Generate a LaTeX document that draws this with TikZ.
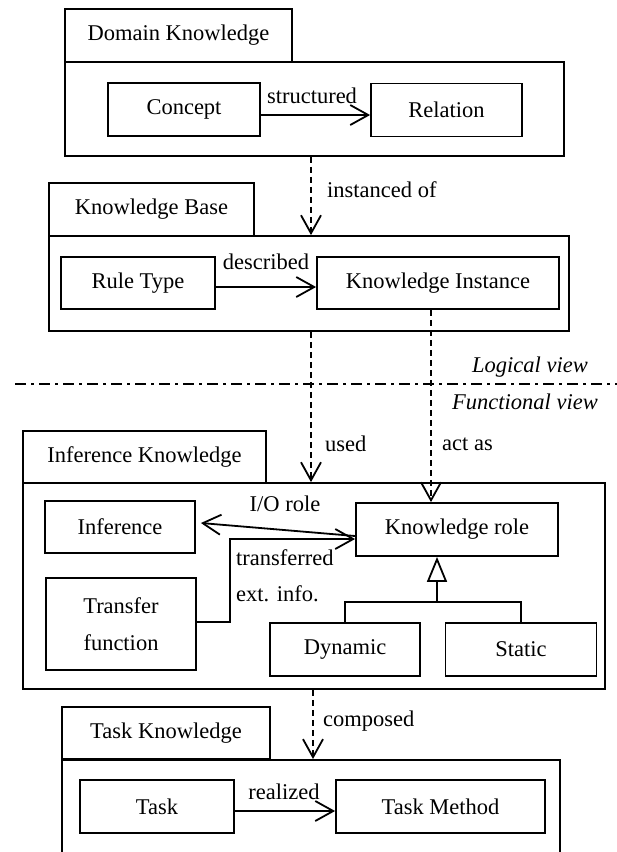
\documentclass[tikz,border=0pt]{standalone}
\usepackage{fontspec}
\setmainfont{Liberation Serif}
\usetikzlibrary{arrows.meta}
\begin{document}
\begin{tikzpicture}[x=1pt,y=-1pt,
  every node/.style={font=\fontsize{22.5pt}{27pt}\selectfont},
  box/.style={draw, line width=1.8pt, inner sep=0pt, align=center},
  lbl/.style={inner sep=0pt},
  conn/.style={line width=1.8pt},
  arr/.style={conn, -{Straight Barb[length=18pt,width=20pt]}},
  darr/.style={arr, dash pattern=on 6pt off 4pt},
  inherit/.style={conn, -{Triangle[open,length=25pt,width=20pt]}},
  viewline/.style={line width=1.8pt, dash pattern=on 11pt off 5pt on 3pt off 5pt}
]
\useasboundingbox (0,0) rectangle (617,852);
\clip (0,0) rectangle (617,852);
\fill[white] (0,0) rectangle (617,852);

% Domain Knowledge
\node[box, minimum width=227pt, minimum height=53pt] (dtab) at (178.5,35.5) {Domain Knowledge};
\node[box, minimum width=499pt, minimum height=94pt] (dbody) at (314.5,109) {};
\node[box, minimum width=152pt, minimum height=53pt] (concept) at (184,109.5) {Concept};
\node[box, minimum width=151pt, minimum height=53pt] (relation) at (446.5,110) {Relation};
\draw[arr] ([yshift=-5.5pt]concept.east) -- ([yshift=-5pt]relation.west);
\node[lbl] (lstruct) at (312,96) {structured};

% instanced of
\coordinate (x1) at (311,0);
\node[box, minimum width=205pt, minimum height=53pt] (kbtab) at (151.5,209.5) {Knowledge Base};
\node[box, minimum width=520pt, minimum height=95pt] (kbbody) at (309,283.5) {};
\draw[darr] (dbody.south -| x1) -- (kbbody.north -| x1);
\node[lbl, anchor=west] (linst) at (327,190) {instanced of};

\node[box, minimum width=154pt, minimum height=52pt] (rule) at (138,283) {Rule Type};
\node[box, minimum width=242pt, minimum height=52pt] (kinst) at (438,283) {Knowledge Instance};
\draw[arr] ([yshift=-4pt]rule.east) -- ([yshift=-4pt]kinst.west);
\node[lbl] (ldesc) at (266,262) {described};

% view separator
\coordinate (vl) at (15,384);
\coordinate (vr) at (617,384);
\draw[viewline] (vl) -- (vr);
\node[lbl, anchor=east, font=\fontsize{22.5pt}{27pt}\selectfont\itshape] (llog) at (588,367) {Logical view};
\node[lbl, anchor=east, font=\fontsize{22.5pt}{27pt}\selectfont\itshape] (lfun) at (598,402) {Functional view};

% Inference Knowledge
\node[box, minimum width=243pt, minimum height=52pt] (itab) at (144.5,457) {Inference Knowledge};
\node[box, minimum width=582pt, minimum height=206pt] (ibody) at (314,586) {};
\node[box, minimum width=150pt, minimum height=52pt] (infer) at (120,527) {Inference};
\node[box, minimum width=150pt, minimum height=92pt] (tfun) at (121,624) {Transfer\\[10pt]function};
\node[box, minimum width=202pt, minimum height=53pt] (krole) at (457,529.5) {Knowledge role};
\node[box, minimum width=150pt, minimum height=53pt] (dyn) at (345,649.5) {Dynamic};
\node[box, minimum width=151pt, minimum height=53pt] (stat) at (521,649.5) {Static};

\draw[darr] (kbbody.south -| x1) -- (ibody.north -| x1);
\node[lbl, anchor=west] (lused) at (325,444) {used};
\coordinate (x2) at (431,0);
\draw[darr] (kinst.south -| x2) -- (krole.north -| x2);
\node[lbl, anchor=west] (lact) at (442,444) {act as};

\draw[arr] ([yshift=-6.5pt]krole.west) -- ([xshift=5pt,yshift=4pt]infer.east);
\node[lbl] (lio) at (285,504) {I/O role};
\draw[arr] ([yshift=2pt]tfun.east) -- ++(33,0) |- ([yshift=-9.5pt]krole.west);
\node[lbl, anchor=west] (ltr) at (236,558) {transferred};
\node[lbl, anchor=west] (lext) at (236,594) {ext. info.};

\coordinate (bar) at (437,602);
\draw[conn] (dyn.north) |- (bar) -| (stat.north);
\draw[inherit] (bar) -- (bar |- krole.south);

% Task Knowledge
\coordinate (x3) at (313,0);
\node[box, minimum width=208pt, minimum height=52pt] (ttab) at (166,733) {Task Knowledge};
\node[box, minimum width=498pt, minimum height=140pt, anchor=north] (tbody) at (311,759) {};
\draw[darr] (ibody.south -| x3) -- (tbody.north -| x3);
\node[lbl, anchor=west] (lcomp) at (323,721) {composed};
\node[box, minimum width=154pt, minimum height=53pt] (task) at (157,806.5) {Task};
\node[box, minimum width=209pt, minimum height=53pt] (tmeth) at (440.5,806.5) {Task Method};
\draw[arr] ([yshift=-4.5pt]task.east) -- ([yshift=-4.5pt]tmeth.west);
\node[lbl] (lreal) at (284,792) {realized};
\end{tikzpicture}
\end{document}
